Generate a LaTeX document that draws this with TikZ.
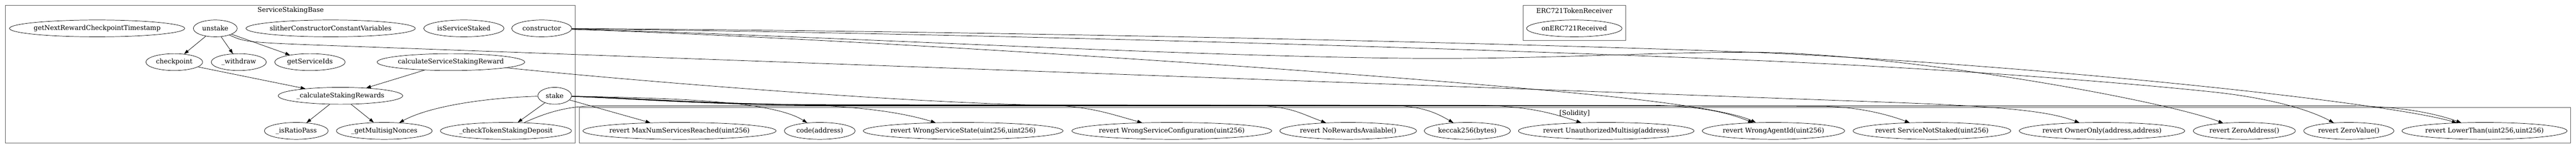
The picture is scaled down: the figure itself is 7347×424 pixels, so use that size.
\documentclass[tikz,border=0pt]{standalone}
\usepackage{fontspec}
\setmainfont{DejaVu Serif}
\usetikzlibrary{shapes.geometric,arrows.meta}
\newcommand\mkfn[5]{\node[fn,wd=#4] (#1) at (#2,#3) {\makebox[0pt]{#5}};}
\begin{document}
\begin{tikzpicture}[x=0.75pt,y=-0.75pt,
  fn/.style={draw,ellipse,line width=0.8pt,inner sep=0pt,minimum height=36pt,font=\fontsize{14pt}{16pt}\selectfont},
  wd/.style={minimum width=#1*0.75pt},
  cl/.style={draw=black!65,line width=1pt},
  cllabel/.style={font=\fontsize{14pt}{16pt}\selectfont,inner sep=0pt},
  edge/.style={draw,line width=0.8pt,-{Triangle[length=10pt,width=7pt]}},
]
\useasboundingbox (0,0) rectangle (7347,424);
% clusters
\draw[cl] (16,16) rectangle (1641,407);
\node[cllabel] (lblssb) at (829,30) {ServiceStakingBase};
\draw[cl] (1652,307) rectangle (7331,407);
\node[cllabel] (lblsol) at (4491,323) {[Solidity]};
\draw[cl] (4344,16) rectangle (4636,116);
\node[cllabel] (lblerc) at (4490,30) {ERC721TokenReceiver};
% ServiceStakingBase nodes
\mkfn{getnext}{277}{81}{500}{getNextRewardCheckpointTimestamp}
\mkfn{unstake}{614}{81}{125}{unstake}
\mkfn{slither}{943}{81}{483}{slitherConstructorConstantVariables}
\mkfn{isstaked}{1323}{81}{229}{isServiceStaked}
\mkfn{constructor}{1545}{81}{171}{constructor}
\mkfn{checkpoint}{497}{177}{162}{checkpoint}
\mkfn{withdraw}{681}{177}{157}{\_withdraw}
\mkfn{getserviceids}{884}{177}{201}{getServiceIds}
\mkfn{calcreward}{1286}{177}{421}{calculateServiceStakingReward}
\mkfn{calcrewards}{971}{273}{355}{\_calculateStakingRewards}
\mkfn{stake}{1582}{273}{96}{stake}
\mkfn{isratiopass}{845}{373}{182}{\_isRatioPass}
\mkfn{getmultisig}{1096}{373}{273}{\_getMultisigNonces}
\mkfn{checkdeposit}{1443}{373}{374}{\_checkTokenStakingDeposit}
% ERC721TokenReceiver
\mkfn{onerc}{4490}{81}{272}{onERC721Received}
% Solidity nodes
\mkfn{maxnum}{1938}{373}{551}{revert MaxNumServicesReached(uint256)}
\mkfn{code}{2338}{373}{202}{code(address)}
\mkfn{wss}{2747}{373}{570}{revert WrongServiceState(uint256,uint256)}
\mkfn{wsc}{3342}{373}{570}{revert WrongServiceConfiguration(uint256)}
\mkfn{norewards}{3845}{373}{390}{revert NoRewardsAvailable()}
\mkfn{keccak}{4185}{373}{246}{keccak256(bytes)}
\mkfn{unauth}{4581}{373}{501}{revert UnauthorizedMultisig(address)}
\mkfn{wrongagent}{5058}{373}{406}{revert WrongAgentId(uint256)}
\mkfn{notstaked}{5510}{373}{450}{revert ServiceNotStaked(uint256)}
\mkfn{owneronly}{5995}{373}{472}{revert OwnerOnly(address,address)}
\mkfn{zeroaddress}{6401}{373}{291}{revert ZeroAddress()}
\mkfn{zerovalue}{6699}{373}{257}{revert ZeroValue()}
\mkfn{lowerthan}{7086}{373}{471}{revert LowerThan(uint256,uint256)}
% short edges
\draw[edge] (unstake) -- (checkpoint);
\draw[edge] (unstake) -- (withdraw);
\draw[edge] (unstake) -- (getserviceids);
\draw[edge] (checkpoint) -- (calcrewards);
\draw[edge] (calcreward) -- (calcrewards);
\draw[edge] (calcrewards) -- (isratiopass);
\draw[edge] (calcrewards) -- (getmultisig);
\draw[edge] (stake) -- (checkdeposit);
\draw[edge] (stake) -- (maxnum);
\draw[edge] (stake) .. controls (1400,278) and (1230,300) .. (getmultisig);
% long edges
\draw[edge] (unstake) .. controls (700,121) .. (1000,132) -- (5400,292) .. controls (5750,305) and (5850,320) .. (owneronly);
\draw[edge] (constructor) .. controls (2500,86) and (4000,112) .. (5000,149) .. controls (5800,185) and (6800,290) .. (lowerthan);
\draw[edge] (constructor) .. controls (2800,96) and (4200,138) .. (5000,172) .. controls (5700,202) and (6200,250) .. (6319,263) .. controls (6500,283) and (6600,320) .. (zerovalue);
\draw[edge] (constructor) .. controls (2300,100) and (3300,158) .. (4000,166) .. controls (4400,170) and (4700,148) .. (5000,149) .. controls (5400,150) and (6150,280) .. (zeroaddress);
\draw[edge] (constructor) .. controls (2300,105) and (3700,190) .. (4500,266) .. controls (4800,294) and (4950,322) .. (wrongagent);
\draw[edge] (calcreward) .. controls (1800,230) and (2600,295) .. (3000,300) -- (5200,303) .. controls (5300,305) and (5380,325) .. (notstaked);
\draw[edge] (checkdeposit) .. controls (1560,320) and (1620,302) .. (1700,302) -- (6700,302) .. controls (6850,302) and (6950,325) .. (lowerthan);
% stake bundle
\draw[edge] (stake) .. controls (1900,280) and (2200,285) .. (code);
\draw[edge] (stake) .. controls (1800,279) and (2000,294) .. (2250,298) .. controls (2450,302) and (2570,320) .. (wss);
\draw[edge] (stake) .. controls (1800,279) and (2000,295) .. (2300,298) -- (2950,299) .. controls (3100,300) and (3150,320) .. (wsc);
\draw[edge] (stake) .. controls (1800,280) and (2000,296) .. (2300,299) -- (3550,300) .. controls (3680,301) and (3700,320) .. (norewards);
\draw[edge] (stake) .. controls (1800,280) and (2000,296) .. (2300,299) -- (3950,300) .. controls (4050,301) and (4090,318) .. (keccak);
\draw[edge] (stake) .. controls (1800,281) and (2000,297) .. (2300,300) -- (4200,300) .. controls (4350,301) and (4420,320) .. (unauth);
\draw[edge] (stake) .. controls (1800,281) and (2000,297) .. (2300,300) -- (4700,300) .. controls (4850,301) and (4930,322) .. (wrongagent);
\end{tikzpicture}
\end{document}
